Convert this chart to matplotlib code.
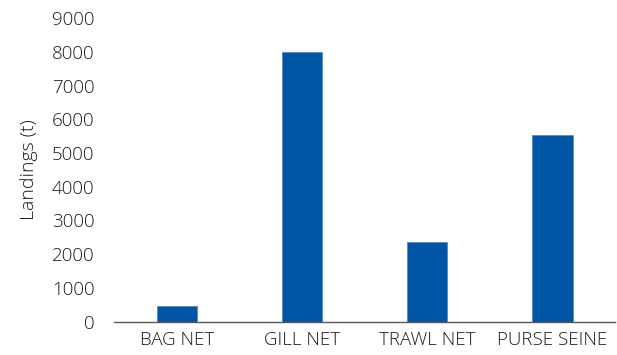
import matplotlib
matplotlib.use('Agg')
import matplotlib.pyplot as plt

categories = ['BAG NET', 'GILL NET', 'TRAWL NET', 'PURSE SEINE']
landings = [470, 8000, 2370, 5540]
yticks = [0, 1000, 2000, 3000, 4000, 5000, 6000, 7000, 8000, 9000]

plt.rcParams['font.family'] = ['Open Sans', 'DejaVu Sans']
text_color = '#1a1a1a'

fig = plt.figure(figsize=(6.17, 3.55), dpi=100)
ax = fig.add_axes([0.185, 0.094, 0.812, 0.855])

x = range(len(categories))
ax.bar(x, landings, width=0.32, color='#0055A5', edgecolor='#4F81BD', linewidth=0.5)

ax.set_xlim(-0.5, len(categories) - 0.5)
ax.set_ylim(0, 9000)
ax.set_yticks(yticks)
ax.set_yticklabels([str(v) for v in yticks])
ax.set_xticks(list(x))
ax.set_xticklabels(categories)
ax.tick_params(axis='both', length=0, labelsize=13.5, colors=text_color)
ax.tick_params(axis='y', pad=14)
ax.tick_params(axis='x', pad=7)
for lbl in ax.get_xticklabels() + ax.get_yticklabels():
    lbl.set_fontweight('light')

for side in ['top', 'right', 'left']:
    ax.spines[side].set_visible(False)
ax.spines['bottom'].set_color('#595959')
ax.spines['bottom'].set_linewidth(1)

ax.set_ylabel('Landings (t)', fontsize=14, fontweight='light', color=text_color, labelpad=10)

fig.savefig('out.png', dpi=100)
